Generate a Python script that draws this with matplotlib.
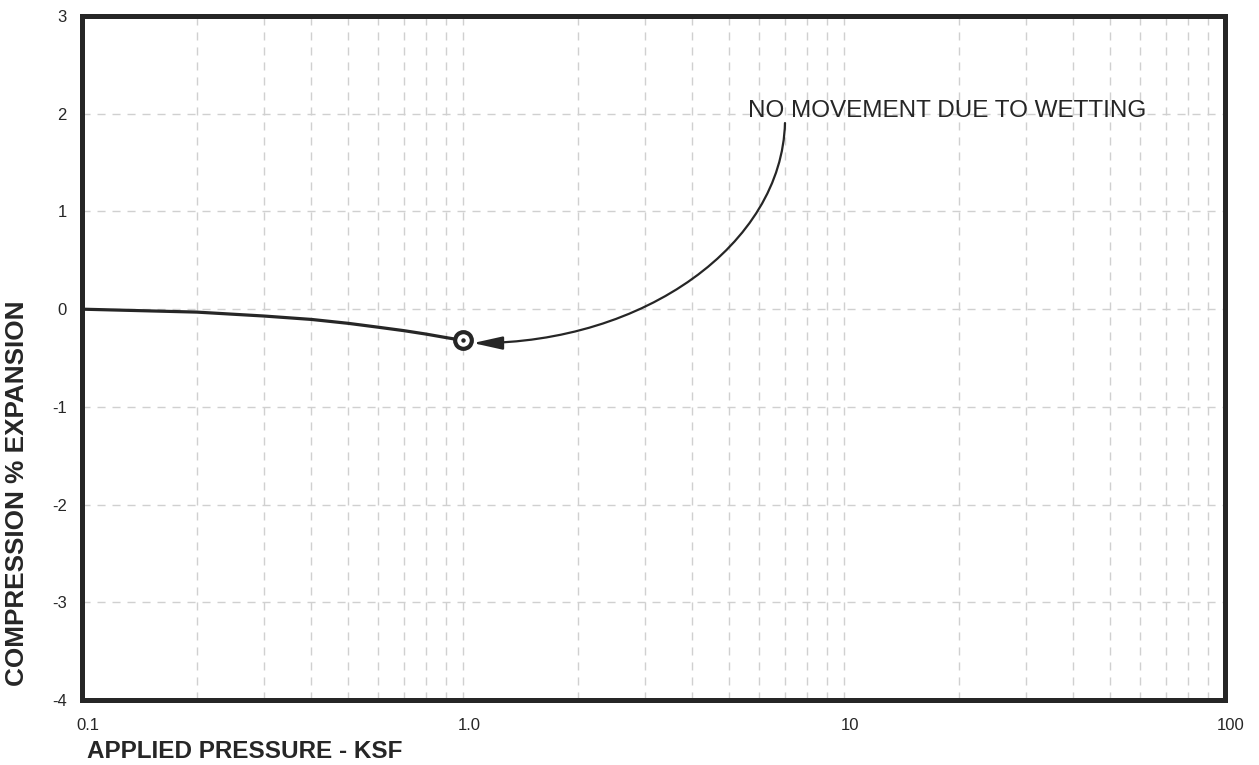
import matplotlib
matplotlib.use("Agg")
import matplotlib.pyplot as plt
import matplotlib.transforms as mtransforms
from matplotlib.path import Path
from matplotlib.patches import FancyArrowPatch

plt.rcParams['font.family'] = ['Liberation Sans', 'DejaVu Sans']
plt.rcParams['lines.scale_dashes'] = False

# Consolidation / swell test results
pressure_ksf = [0.1, 0.2, 0.3, 0.4, 0.5, 0.6, 0.7, 0.8, 0.9, 1.0]
strain_pct = [0.0, -0.03, -0.07, -0.105, -0.145, -0.185, -0.22, -0.255, -0.29, -0.32]

# point where water was added
wetting_pressure = 1.0
wetting_strain = -0.32

x_ticks = [0.1, 1.0, 10, 100]
x_ticklabels = ['0.1', '1.0', '10', '100']
y_ticks = [-4, -3, -2, -1, 0, 1, 2, 3]
y_ticklabels = ['-4', '-3', '-2', '-1', '0', '1', '2', '3']

note_text = 'NO MOVEMENT DUE TO WETTING'

ink = '#262626'
grid_col = '#d0d0d0'
grid_ls = (0, (5.8, 5))

fig = plt.figure(figsize=(12.59, 7.65), dpi=100)
ax = fig.add_axes([0.0651, 0.085, 0.9079, 0.894])

ax.set_xscale('log')
ax.set_xlim(0.1, 100)
ax.set_ylim(-4, 3)

# grid: every log subdivision vertically, whole percent horizontally
for dec in [0.1, 1, 10]:
    for m in range(2, 10):
        ax.axvline(dec * m, color=grid_col, lw=1.0, ls=grid_ls, zorder=0)
for d in [1, 10]:
    ax.axvline(d, color=grid_col, lw=1.0, ls=grid_ls, zorder=0)
for yv in y_ticks[1:-1]:
    ax.axhline(yv, color=grid_col, lw=1.0, ls=grid_ls, zorder=0)

ax.set_xticks(x_ticks)
ax.set_xticklabels(x_ticklabels)
ax.xaxis.set_minor_locator(matplotlib.ticker.NullLocator())
ax.set_yticks(y_ticks)
ax.set_yticklabels(y_ticklabels)
ax.tick_params(axis='x', length=0, pad=13, labelsize=12, colors=ink)
ax.tick_params(axis='y', length=0, pad=11, labelsize=12, colors=ink)
shift = mtransforms.ScaledTranslation(0.06, 0, fig.dpi_scale_trans)
for lbl in ax.get_xticklabels():
    lbl.set_transform(lbl.get_transform() + shift)

for sp in ax.spines.values():
    sp.set_linewidth(3.6)
    sp.set_color(ink)
    sp.set_capstyle('projecting')

ax.plot(pressure_ksf, strain_pct, color=ink, lw=2.3, zorder=3,
        solid_capstyle='butt')
ax.plot([wetting_pressure], [wetting_strain], marker='o', ms=12,
        mfc='white', mec=ink, mew=3.0, zorder=4)
ax.plot([wetting_pressure], [wetting_strain], marker='o', ms=2.2,
        mfc=ink, mec=ink, zorder=5)

# callout text and curved leader arrow
ax.text(5.6, 1.966, note_text, fontsize=17.5, color=ink,
        ha='left', va='baseline')
leader = Path([(7.0, 1.905), (6.87, 0.666), (3.0, -0.347), (1.062, -0.347)],
              [Path.MOVETO, Path.CURVE4, Path.CURVE4, Path.CURVE4])
arrow = FancyArrowPatch(path=leader,
                        arrowstyle='-|>,head_length=1.8,head_width=0.4',
                        mutation_scale=10, color=ink, lw=1.6,
                        transform=ax.transData, zorder=4)
ax.add_patch(arrow)

fig.text(87 / 1259, 7 / 765, 'APPLIED PRESSURE - KSF', fontsize=17.5,
         fontweight='bold', color=ink, ha='left', va='baseline')
fig.text(17 / 1259, (765 - 300) / 765, 'COMPRESSION % EXPANSION',
         fontsize=18.8, fontweight='bold', color=ink, rotation=90,
         ha='center', va='top')

fig.savefig('out.png', dpi=100)
